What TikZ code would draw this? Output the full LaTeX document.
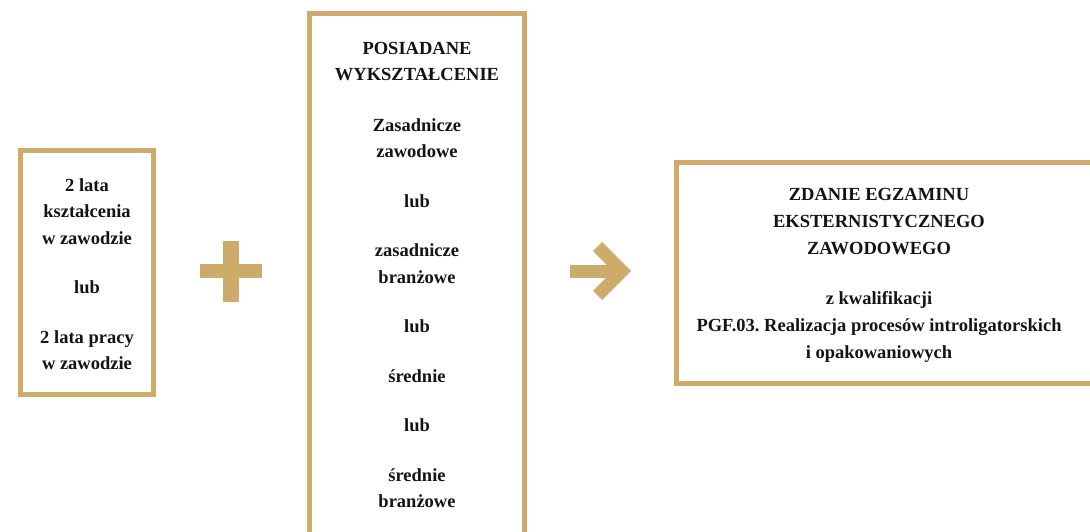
\documentclass[tikz,border=0pt]{standalone}
\usepackage{fontspec}
\setmainfont{Liberation Serif}
\usetikzlibrary{shadows}
\definecolor{gold}{RGB}{207,171,107}
\definecolor{ink}{RGB}{20,20,20}
\frenchspacing
\tikzset{
  goldbox/.style={draw=gold, line width=5pt, fill=white,
    drop shadow={shadow xshift=2pt, shadow yshift=-3pt, opacity=0.18, fill=black}},
  label/.style={align=center, text=ink, inner sep=0pt,
    font=\fontsize{18.5}{26.5}\selectfont\bfseries},
  sign/.style={draw=gold, line width=13pt},
}
\begin{document}
\begin{tikzpicture}[x=1pt, y=-1pt]
\useasboundingbox (0,0) rectangle (1090,531);
\clip (0,0) rectangle (1090,531);
% boxes
\draw[goldbox] (20,150) rectangle (153.5,394);
\draw[goldbox] (309.3,13.3) rectangle (524.7,560);
\draw[goldbox] (676.6,162) rectangle (1110,383.4);
% texts
\node[label] (left) at (87,274) {2 lata\\kształcenia\\w zawodzie\\[23pt]lub\\[23pt]2 lata pracy\\w zawodzie};
\node[label] (mid) at (417,275) {POSIADANE\\WYKSZTAŁCENIE\\[24pt]Zasadnicze\\zawodowe\\[23pt]lub\\[23pt]zasadnicze\\branżowe\\[23pt]lub\\[23pt]średnie\\[23pt]lub\\[23pt]średnie\\branżowe};
\node[label, font=\fontsize{18.5}{27.3}\selectfont\bfseries] (right) at (879,275.5) {ZDANIE EGZAMINU\\EKSTERNISTYCZNEGO\\ZAWODOWEGO\\[22pt]z kwalifikacji\\PGF.03. Realizacja procesów introligatorskich\\i opakowaniowych};
% plus sign
\coordinate (plusc) at (231,271);
\fill[gold] ([xshift=-31pt,yshift=-7pt]plusc) rectangle ([xshift=31pt,yshift=7pt]plusc);
\fill[gold] ([xshift=-8pt,yshift=-30.5pt]plusc) rectangle ([xshift=8pt,yshift=30.5pt]plusc);
% arrow
\coordinate (tail) at (570,271);
\coordinate (tip) at (622,271);
\draw[sign] (tail) -- (tip);
\draw[sign, miter limit=4] ([xshift=-24.4pt,yshift=24.4pt]tip) -- (tip) -- ([xshift=-24.4pt,yshift=-24.4pt]tip);
\end{tikzpicture}
\end{document}
